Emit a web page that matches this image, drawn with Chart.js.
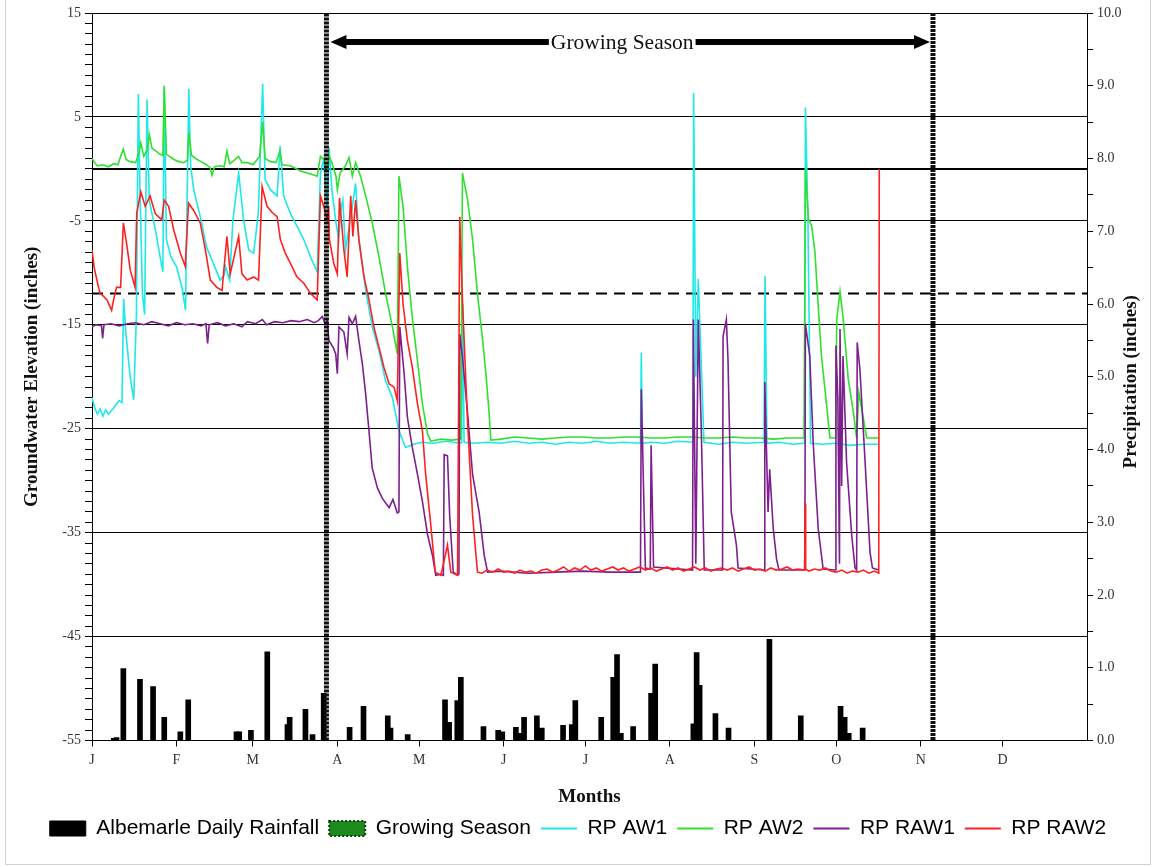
<!DOCTYPE html>
<html>
<head>
<meta charset="utf-8">
<script src="https://cdn.jsdelivr.net/npm/chart.js@4.4.1/dist/chart.umd.min.js"></script>
<style>
  html, body { margin: 0; padding: 0; background: #fff; }
  #wrap { width: 1156px; height: 867px; }
</style>
</head>
<body>
<div id="wrap"><canvas id="gwChart" width="1156" height="867"></canvas></div>
<script>
// x values are day of year (0 = Jan 1), left axis in inches of groundwater, right axis in inches of rain
const monthStarts = [0, 31, 59, 90, 120, 151, 181, 212, 243, 273, 304, 334]
const monthLabels = ['J', 'F', 'M', 'A', 'M', 'J', 'J', 'A', 'S', 'O', 'N', 'D']

const seasonStart = 86
const seasonEnd = 308.5
const arrowLevel = 12.2
const zeroLevel = 0
const criterionLevel = -12

const rainfall = [
  [8, 0.03], [9, 0.04], [11.5, 0.99], [17.6, 0.84], [22.4, 0.74], [26.5, 0.32], [32.4, 0.12], [35.3, 0.56],
  [53, 0.12], [54, 0.12], [58.3, 0.14], [64.3, 1.22], [71.7, 0.22], [72.5, 0.32], [78.3, 0.43], [80.9, 0.08],
  [85, 0.65], [94.5, 0.18], [99.6, 0.47], [108.5, 0.34], [109.5, 0.17], [115.8, 0.08], [129.5, 0.56], [131, 0.25],
  [134, 0.55], [135.3, 0.87], [143.6, 0.19], [149, 0.14], [150.5, 0.12], [155.5, 0.18], [157, 0.1], [158.5, 0.32],
  [163.2, 0.34], [165, 0.17], [172.8, 0.21], [176, 0.22], [177.3, 0.55], [186.8, 0.32], [191.2, 0.87], [192.6, 1.18],
  [194, 0.1], [198.5, 0.19], [205.1, 0.65], [206.6, 1.05], [220.6, 0.23], [221.8, 1.21], [222.9, 0.76], [228.7, 0.37],
  [233.5, 0.17], [248.5, 1.39], [260, 0.34], [274.6, 0.47], [276.1, 0.32], [277.6, 0.1], [282.7, 0.17]
]

const rpAW1 = [
  [0, -22], [1, -23], [2, -23.6], [3, -23.1], [4, -23.8], [5, -23.2], [6, -23.6], [7, -23.3], [8, -23.0], [9, -22.6],
  [10, -22.3], [11, -22.5], [11.6, -12.5], [12.5, -16], [14, -20], [15.3, -22.2], [16.3, -14], [17, 7.2], [17.6, -2],
  [18.5, -12], [19.3, -14], [20.2, 6.7], [21, -3], [22, -4.3], [23.5, -6.2], [25, -8.5], [26, -9.9], [26.5, 7.8],
  [27.3, -6.8], [29, -8.5], [31, -9.4], [33, -11.4], [34.3, -13.6], [35.5, 7.7], [36.2, 0.3], [37.3, -2], [40, -4.9],
  [42, -7.5], [45, -9.4], [47, -10.7], [48.5, -10.2], [49, -9.4], [50.5, -10.7], [51.7, -4.9], [53.8, -0.4],
  [55.6, -4.9], [57.5, -7.8], [59.3, -8.1], [61, -4.3], [62.6, 8.2], [63.5, -1], [65.4, -2], [67.9, -2.6], [69, 2.2],
  [70.3, -2.6], [72.8, -4.3], [75.2, -5.5], [77.7, -6.8], [80.2, -8.5], [82.6, -9.9], [83.8, -0.4], [85, 0.9],
  [86.3, -3.6], [87, 2], [88, -2], [89.5, -5.2], [90.5, -6.8], [91.2, -4], [92, -3], [93, -7.8], [95.5, -3.6],
  [96.7, -1.4], [97.9, -6.8], [100.4, -11.7], [102.8, -15.2], [105.3, -17.5], [107.7, -20.4], [110.2, -22],
  [112.6, -25.2], [115, -26.8], [118, -26.5], [121, -26.3], [125, -26.4], [130, -26.2], [135, -26.4], [135.6, -26.3],
  [136, -13], [136.5, -26.3], [140, -26.4], [145, -26.3], [150, -26.4], [155, -26.2], [160, -26.4], [165, -26.3],
  [170, -26.5], [175, -26.3], [180, -26.4], [185, -26.2], [190, -26.4], [195, -26.3], [201.2, -26.4], [201.5, -17.7],
  [201.9, -26.4], [205, -26.3], [210, -26.4], [215, -26.2], [220.4, -26.3], [220.7, 7.3], [221.5, -20], [222.4, -10.6],
  [224.5, -26.3], [230, -26.5], [235, -26.3], [240, -26.4], [246.5, -26.3], [246.9, -10.3], [247.6, -26.4],
  [252, -26.3], [257, -26.5], [261.4, -26.4], [261.7, 5.9], [262.6, -4.2], [263.6, -26.4], [268, -26.5],
  [273, -26.4], [278, -26.6], [283, -26.5], [288.6, -26.5]
]

const rpAW2 = [
  [0, 1.0], [1, 0.6], [2, 0.3], [4, 0.4], [6, 0.2], [8, 0.5], [9.5, 0.4], [10.5, 1.2], [11.5, 1.9], [12.5, 0.9],
  [14, 0.7], [16, 0.6], [17.3, 1.6], [17.9, 2.5], [19, 1.2], [20.3, 1.9], [21, 3.3], [22, 2.0], [23.5, 1.7], [25, 1.4],
  [26, 1.3], [26.5, 8.0], [27.3, 1.4], [28.5, 1.2], [30, 0.9], [32, 0.7], [33.5, 0.6], [35, 0.8], [35.5, 3.5],
  [36.5, 1.3], [38, 1.0], [40, 0.7], [42, 0.4], [43.4, 0.1], [44, -0.6], [45, 0.2], [47, 0.3], [48.5, 0.2],
  [49.5, 1.7], [50.5, 0.5], [52, 0.8], [53.8, 1.2], [55, 0.6], [57, 0.6], [59, 0.4], [61.5, 1.2], [62.6, 4.5],
  [63.5, 1.0], [65.5, 0.7], [67.5, 0.6], [68.9, 1.7], [69.7, 0.4], [72.8, 0.3], [76.5, -0.2], [80.2, -0.5],
  [82.6, -0.7], [83.8, 1.2], [85, 0.9], [86.3, 0.0], [87, 1.2], [88, 0.6], [89.5, -0.7], [90, -2], [91, -0.4],
  [93, 0.3], [94.3, 1.1], [95.5, -0.7], [96.7, 0.6], [98.5, -0.7], [100.4, -2.6], [102.8, -5.2], [105.3, -8.5],
  [107.7, -12], [110.2, -15.2], [112, -17.8], [112.6, -0.7], [114.1, -3.6], [115.7, -9.4], [117.5, -14.3],
  [119.4, -18.5], [121.2, -22.6], [123.1, -25.5], [124.3, -26.2], [128, -26.0], [132, -26.1], [135.3, -26.0],
  [135.9, -0.4], [137.8, -3], [139.6, -6.8], [141.4, -12], [143.3, -16.5], [144.5, -19.7], [145.7, -23.6],
  [146.3, -26.1], [150, -26.0], [155, -25.8], [160, -25.9], [165, -26.0], [170, -25.9], [175, -25.8], [180, -25.8],
  [185, -25.9], [190, -25.9], [195, -25.8], [200, -25.8], [205, -25.9], [210, -25.9], [215, -25.8], [220, -25.8],
  [225, -25.9], [230, -25.9], [235, -25.8], [240, -25.9], [245, -25.9], [250, -26.0], [255, -25.9], [261.2, -25.9],
  [261.7, 0], [262.8, -4.8], [264, -5.5], [265.2, -8], [266.4, -13.2], [267.6, -18], [269.5, -22.8], [270.7, -25.9],
  [272.8, -25.9], [273.2, -14.5], [274.4, -11.8], [275.6, -14.5], [277.4, -20.2], [279.3, -23.4], [280.5, -25.9],
  [281.3, -21.5], [284.2, -25.9], [288.6, -25.9]
]

const rpRAW1 = [
  [0, -15.2], [1.5, -15.0], [3.5, -15.1], [3.9, -16.3], [4.4, -15.0], [7, -14.9], [10, -15.1], [13, -14.9],
  [16, -14.8], [19, -15.0], [22, -14.7], [25, -14.9], [28, -15.1], [31, -14.8], [34, -15.0], [37, -14.9], [40, -15.1],
  [41.8, -14.9], [42.4, -16.8], [43, -15.0], [46, -14.8], [49, -15.1], [52, -14.9], [55, -15.2], [57, -14.7],
  [60, -14.9], [62.5, -14.5], [64, -15.0], [67, -14.7], [70, -14.8], [73, -14.6], [76, -14.7], [79, -14.5],
  [81.5, -14.8], [83, -14.6], [84.5, -14.2], [85.5, -14.9], [86.3, -14.6], [86.9, -16.5], [88.5, -17.2], [89.4, -17.8],
  [90, -19.7], [90.6, -15.2], [92.4, -15.7], [93.6, -17.8], [94.3, -14.3], [95.5, -14.9], [96.7, -14.2],
  [97.9, -16.5], [99.2, -18.8], [100.4, -21.7], [101.6, -25.2], [102.8, -28.8], [104.7, -30.7], [106.5, -31.7],
  [109, -32.6], [110.4, -31.8], [112, -33.1], [112.6, -33.0], [112.9, -15.2], [114.5, -19.7], [115.7, -23.9],
  [117.5, -26.8], [119.4, -29.4], [121.2, -32.0], [123.1, -35.2], [124.9, -37.2], [126.1, -39.1], [128, -39.0],
  [128.9, -39.1], [129.2, -27.5], [130.4, -27.6], [131.2, -33.3], [132.5, -38.8], [134.1, -39.1], [134.6, -39.0],
  [134.9, -15.9], [135.9, -18.1], [137.8, -23.6], [139.6, -29.4], [142, -33], [143.9, -37.2], [145.1, -38.8],
  [150, -38.7], [160, -38.9], [170, -38.8], [180, -38.7], [190, -38.8], [201.2, -38.8], [201.5, -21.2], [203, -38.4],
  [204.8, -38.5], [205.1, -26.6], [206, -38.3], [220.3, -38.6], [220.6, -14.5], [221.5, -38], [222.4, -14.5],
  [223.5, -25], [224.6, -38.6], [231.3, -38.6], [231.5, -16.1], [232.7, -14.5], [233.3, -18.3], [234.5, -33],
  [236.4, -36.2], [237, -38.4], [246.6, -38.6], [246.8, -20.5], [248, -33], [248.6, -28.9], [249.9, -34.6],
  [251.1, -37.5], [252, -38.6], [261.5, -38.6], [261.7, -14.9], [263.3, -18], [264.6, -26.6], [266.4, -34.6],
  [268.2, -38.5], [272.7, -38.6], [272.9, -17], [273.6, -22], [274.2, -38], [274.4, -15.4], [275, -30.5],
  [275.5, -18], [276.8, -28.2], [278.7, -35.3], [279.9, -38.4], [280.5, -38.6], [280.7, -16.7], [281.7, -19.3],
  [283.6, -28.2], [285.4, -36.9], [286.3, -38.4], [288.5, -38.6]
]

const rpRAW2 = [
  [0, -7.8], [0.8, -9.5], [1.8, -10.7], [2.5, -11.5], [3, -12], [4, -12.2], [5.5, -12.6], [7.2, -13.6], [8, -12.5],
  [9, -11.4], [10.5, -11.4], [11.5, -5.2], [12.7, -7.2], [14, -9.7], [15.8, -11.4], [16.4, -4.3], [17.9, -2.2],
  [19.5, -3.6], [21.3, -2.6], [23.2, -4.3], [25.6, -4.9], [26.5, -3], [28.1, -3.6], [30, -5.9], [32.4, -8.1],
  [34.2, -9.4], [35.4, -3.3], [37.3, -4], [39.7, -5.2], [41.6, -7.8], [43.4, -10.7], [45.8, -11.4], [47.7, -11.7],
  [49.5, -6.5], [50.7, -10.1], [53.8, -6.5], [55, -10.1], [56.9, -10.7], [59.3, -10.4], [61.1, -10.7], [62.4, -1.7],
  [64.2, -3.6], [66.1, -4.2], [67.9, -4.6], [69.1, -6.8], [70.9, -8.1], [72.8, -9.1], [75.2, -10.4], [77.7, -11],
  [80.2, -12], [82.6, -12.6], [83.8, -2.6], [85, -3.6], [86.3, -4.9], [86.8, -3.6], [87.1, -6.8], [88.7, -9.1],
  [90, -10.1], [90.8, -2.8], [92.4, -7.8], [93.6, -10.4], [94.9, -2.6], [95.7, -6.5], [96.7, -3], [97.9, -6.8],
  [99.8, -10.4], [101.6, -12.6], [103.4, -15.2], [105.3, -17.2], [107.1, -19.1], [109, -20.7], [110.8, -21],
  [112, -22.3], [112.9, -8.1], [114.1, -13], [115.7, -16.5], [117.5, -19.1], [119.4, -22.6], [121.2, -25.2],
  [122.4, -29.4], [124.3, -34.3], [125.9, -38.8], [128, -39.1], [130.4, -36.2], [131.6, -38.8], [134.1, -39.1],
  [134.9, -4.6], [135.9, -12.6], [137.8, -24.6], [139.6, -33.3], [141.4, -38.8], [143, -38.9], [145, -38.6],
  [147, -38.8], [149, -38.5], [151, -38.8], [153, -38.7], [155, -38.9], [157, -38.6], [159, -38.8], [161, -38.7],
  [163, -38.9], [165, -38.6], [167, -38.5], [169, -38.8], [171, -38.6], [173, -38.3], [175, -38.7], [177, -38.4],
  [179, -38.6], [181, -38.2], [183, -38.6], [185, -38.4], [187, -38.7], [189, -38.5], [191, -38.3], [193, -38.6],
  [195, -38.4], [197, -38.7], [199, -38.5], [201, -38.3], [203, -38.6], [205, -38.4], [207, -38.7], [209, -38.5],
  [211, -38.3], [213, -38.6], [215, -38.4], [217, -38.7], [219, -38.5], [221, -38.3], [223, -38.6], [225, -38.4],
  [227, -38.7], [229, -38.5], [231, -38.4], [233, -38.6], [235, -38.4], [237, -38.7], [239, -38.5], [241, -38.3],
  [243, -38.6], [245, -38.5], [247, -38.7], [249, -38.4], [251, -38.6], [253, -38.5], [255, -38.3], [257, -38.6],
  [259, -38.5], [261.4, -38.6], [261.6, -32.2], [261.8, -38.5], [263, -38.7], [265, -38.5], [267, -38.6],
  [269, -38.4], [271, -38.7], [273, -38.8], [275, -38.6], [277, -38.9], [279, -38.7], [281, -38.8], [283, -38.6],
  [285, -38.9], [287, -38.7], [288.6, -38.9], [288.8, 0]
]

const colors = {
  AW1: '#1ee8e8',
  AW2: '#2fe02f',
  RAW1: '#7d1f8e',
  RAW2: '#ff2020',
  SEASON: '#1c8a1c'
}

// draws the season arrow, its caption, the right-hand title and the picture frame
const extras = {
  id: 'extras',
  afterDatasetsDraw(chart) {
    const { ctx, scales: { x, y } } = chart
    const yA = y.getPixelForValue(arrowLevel)
    const x1 = x.getPixelForValue(seasonStart) + 4
    const x2 = x.getPixelForValue(seasonEnd) - 3
    const cx = x.getPixelForValue(194.5)
    ctx.save()
    ctx.fillStyle = '#000'
    ctx.strokeStyle = '#000'
    ctx.lineWidth = 6
    ctx.beginPath()
    ctx.moveTo(x1 + 12, yA)
    ctx.lineTo(x2 - 12, yA)
    ctx.stroke()
    ctx.beginPath()
    ctx.moveTo(x1, yA); ctx.lineTo(x1 + 16, yA - 7); ctx.lineTo(x1 + 16, yA + 7); ctx.closePath()
    ctx.fill()
    ctx.beginPath()
    ctx.moveTo(x2, yA); ctx.lineTo(x2 - 16, yA - 7); ctx.lineTo(x2 - 16, yA + 7); ctx.closePath()
    ctx.fill()
    ctx.font = '21.5px "Liberation Serif"'
    const tw = ctx.measureText('Growing Season').width
    ctx.fillStyle = '#fff'
    ctx.fillRect(cx - tw / 2 - 2, yA - 13, tw + 4, 26)
    ctx.fillStyle = '#111'
    ctx.textAlign = 'center'
    ctx.textBaseline = 'middle'
    ctx.fillText('Growing Season', cx, yA + 1)
    ctx.restore()
  },
  afterDraw(chart) {
    const { ctx, chartArea } = chart
    ctx.save()
    ctx.translate(1131, (chartArea.top + chartArea.bottom) / 2 + 5)
    ctx.rotate(-Math.PI / 2)
    ctx.font = 'bold 19px "Liberation Serif"'
    ctx.fillStyle = '#111'
    ctx.textAlign = 'center'
    ctx.textBaseline = 'middle'
    ctx.fillText('Precipitation (inches)', 0, 0)
    ctx.restore()
    ctx.save()
    ctx.strokeStyle = '#cfcfcf'
    ctx.lineWidth = 1
    ctx.beginPath()
    ctx.moveTo(5.5, 0); ctx.lineTo(5.5, 864.5); ctx.lineTo(1150.5, 864.5); ctx.lineTo(1150.5, 0)
    ctx.stroke()
    ctx.restore()
  }
}

const legendLook = {
  'Albemarle Daily Rainfall': { pointStyle: 'rect', fillStyle: '#000', strokeStyle: '#000', lineWidth: 1, lineDash: [] },
  'Growing Season': { pointStyle: 'rect', fillStyle: colors.SEASON, strokeStyle: '#0d420d', lineWidth: 2, lineDash: [2, 2] },
  'RP AW1': { pointStyle: 'line', fillStyle: colors.AW1, strokeStyle: colors.AW1, lineWidth: 2, lineDash: [] },
  'RP AW2': { pointStyle: 'line', fillStyle: colors.AW2, strokeStyle: colors.AW2, lineWidth: 2, lineDash: [] },
  'RP RAW1': { pointStyle: 'line', fillStyle: colors.RAW1, strokeStyle: colors.RAW1, lineWidth: 2, lineDash: [] },
  'RP RAW2': { pointStyle: 'line', fillStyle: colors.RAW2, strokeStyle: colors.RAW2, lineWidth: 2, lineDash: [] }
}

function seriesLine(label, data, color, order) {
  return {
    label: label,
    data: data,
    borderColor: color,
    backgroundColor: color,
    borderWidth: 1.6,
    pointRadius: 0,
    tension: 0,
    order: order
  }
}

const ctx = document.getElementById('gwChart')

new Chart(ctx, {
  type: 'line',
  data: {
    datasets: [
      {
        type: 'bar',
        label: 'Albemarle Daily Rainfall',
        data: rainfall.map(r => ({ x: r[0], y: r[1] })),
        yAxisID: 'y2',
        backgroundColor: '#000',
        borderColor: '#000',
        borderWidth: 0,
        barThickness: 5,
        order: 5
      },
      {
        label: 'Growing Season',
        data: [[seasonStart, -55], [seasonStart, 15], [197, null], [seasonEnd, 15], [seasonEnd, -55]],
        borderColor: '#111',
        backgroundColor: colors.SEASON,
        borderWidth: 5,
        borderDash: [3, 1],
        pointRadius: 0,
        order: 0
      },
      seriesLine('RP AW1', rpAW1, colors.AW1, 4),
      seriesLine('RP AW2', rpAW2, colors.AW2, 3),
      seriesLine('RP RAW1', rpRAW1, colors.RAW1, 2),
      seriesLine('RP RAW2', rpRAW2, colors.RAW2, 1),
      {
        label: '',
        data: [[0, zeroLevel], [365, zeroLevel]],
        borderColor: '#000',
        borderWidth: 2,
        pointRadius: 0,
        order: 6
      },
      {
        label: '',
        data: [[0, criterionLevel], [365, criterionLevel]],
        borderColor: '#000',
        borderWidth: 2,
        borderDash: [11, 7],
        pointRadius: 0,
        order: 6
      }
    ]
  },
  options: {
    responsive: false,
    animation: false,
    layout: { padding: { top: 13, bottom: 18, left: 0, right: 0 } },
    plugins: {
      tooltip: { enabled: false },
      legend: {
        position: 'bottom',
        labels: {
          usePointStyle: true,
          pointStyleWidth: 36,
          boxHeight: 15,
          padding: 10,
          color: '#000',
          font: { family: 'Liberation Sans', size: 21 },
          generateLabels(chart) {
            return chart.data.datasets
              .map((ds, i) => Object.assign({ text: ds.label, datasetIndex: i, hidden: false }, legendLook[ds.label]))
              .filter(item => legendLook[item.text])
          }
        }
      }
    },
    scales: {
      x: {
        type: 'linear',
        min: 0,
        max: 365,
        offset: false,
        afterBuildTicks: scale => { scale.ticks = monthStarts.map(v => ({ value: v })) },
        afterFit: scale => { scale.height = 67.5 },
        ticks: {
          autoSkip: false,
          maxRotation: 0,
          padding: 5,
          color: '#333',
          font: { family: 'Liberation Serif', size: 14 },
          callback: (v, i) => monthLabels[i]
        },
        grid: { drawOnChartArea: false, offset: false, tickLength: 6, color: '#000' },
        border: { color: '#000', width: 1 },
        title: {
          display: true,
          text: 'Months',
          color: '#111',
          font: { family: 'Liberation Serif', size: 19, weight: 'bold' },
          padding: { top: 0, bottom: 0 }
        }
      },
      y: {
        type: 'linear',
        position: 'left',
        min: -55,
        max: 15,
        afterBuildTicks: scale => {
          const t = []
          for (let v = -55; v <= 15; v++) t.push({ value: v })
          scale.ticks = t
        },
        afterFit: scale => { scale.width = 92 },
        ticks: {
          autoSkip: false,
          padding: 4,
          color: '#333',
          font: { family: 'Liberation Serif', size: 14 },
          callback: v => ((v + 55) % 10 === 0 ? String(v) : '')
        },
        grid: {
          color: c => ((c.tick && (c.tick.value + 55) % 10 === 0) ? '#000' : 'rgba(0,0,0,0)'),
          tickColor: '#000',
          tickLength: 7,
          lineWidth: 1
        },
        border: { color: '#000', width: 1 },
        title: {
          display: true,
          text: 'Groundwater Elevation (inches)',
          color: '#111',
          font: { family: 'Liberation Serif', size: 19, weight: 'bold' },
          padding: { top: 21, bottom: 0 }
        }
      },
      y2: {
        type: 'linear',
        position: 'right',
        min: 0,
        max: 10,
        afterBuildTicks: scale => {
          const t = []
          for (let v = 0; v <= 20; v++) t.push({ value: v / 2 })
          scale.ticks = t
        },
        afterFit: scale => { scale.width = 69 },
        ticks: {
          autoSkip: false,
          padding: 4,
          color: '#333',
          font: { family: 'Liberation Serif', size: 14 },
          callback: v => (Number.isInteger(v) ? v.toFixed(1) : '')
        },
        grid: { drawOnChartArea: false, tickColor: '#000', tickLength: 6 },
        border: { color: '#000', width: 1 }
      }
    }
  },
  plugins: [extras]
})
</script>
</body>
</html>
